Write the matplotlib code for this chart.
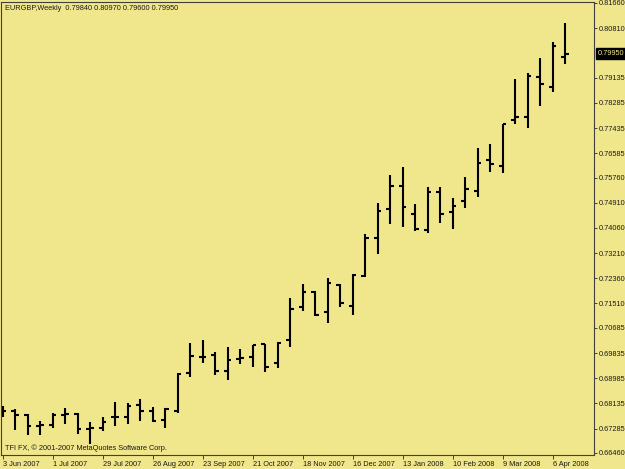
import matplotlib.pyplot as plt
import numpy as np

# weekly EURGBP bars, first bar = week of 3 Jun 2007
opens = [0.6788, 0.6788, 0.6774, 0.6737, 0.6740, 0.6774, 0.6778, 0.6727, 0.6730, 0.6768,
         0.6768, 0.6808, 0.6788, 0.6757, 0.6788, 0.6916, 0.6970, 0.6977, 0.6923, 0.6963,
         0.6970, 0.7014, 0.6950, 0.7028, 0.7139, 0.7190, 0.7122, 0.7213, 0.7142, 0.7244,
         0.7372, 0.7470, 0.7548, 0.7453, 0.7399, 0.7528, 0.7460, 0.7497, 0.7531, 0.7636,
         0.7615, 0.7771, 0.7781, 0.7916, 0.7882, 0.79840]
highs = [0.6805, 0.6795, 0.6778, 0.6754, 0.6781, 0.6798, 0.6781, 0.6751, 0.6768, 0.6818,
         0.6815, 0.6828, 0.6801, 0.6798, 0.6916, 0.7018, 0.7028, 0.6987, 0.7004, 0.6997,
         0.7011, 0.7014, 0.7021, 0.7170, 0.7217, 0.7193, 0.7237, 0.7217, 0.7251, 0.7386,
         0.7490, 0.7585, 0.7612, 0.7487, 0.7544, 0.7544, 0.7507, 0.7578, 0.7676, 0.7690,
         0.7758, 0.7909, 0.7930, 0.7980, 0.8034, 0.80970]
lows = [0.6768, 0.6724, 0.6707, 0.6707, 0.6730, 0.6744, 0.6710, 0.6676, 0.6720, 0.6737,
        0.6744, 0.6754, 0.6751, 0.6730, 0.6781, 0.6903, 0.6950, 0.6909, 0.6892, 0.6947,
        0.6936, 0.6919, 0.6933, 0.7004, 0.7126, 0.7109, 0.7085, 0.7139, 0.7112, 0.7240,
        0.7318, 0.7419, 0.7409, 0.7396, 0.7389, 0.7423, 0.7403, 0.7474, 0.7511, 0.7595,
        0.7592, 0.7757, 0.7744, 0.7818, 0.7865, 0.79600]
closes = [0.6788, 0.6774, 0.6737, 0.6740, 0.6774, 0.6778, 0.6727, 0.6730, 0.6751, 0.6768,
          0.6805, 0.6788, 0.6754, 0.6795, 0.6913, 0.6974, 0.6970, 0.6923, 0.6960, 0.6967,
          0.7011, 0.6936, 0.7018, 0.7132, 0.7190, 0.7112, 0.7220, 0.7153, 0.7247, 0.7372,
          0.7463, 0.7548, 0.7477, 0.7403, 0.7528, 0.7453, 0.7480, 0.7538, 0.7626, 0.7622,
          0.7758, 0.7781, 0.7919, 0.7892, 0.8021, 0.79950]

date_labels = ["3 Jun 2007", "1 Jul 2007", "29 Jul 2007", "26 Aug 2007", "23 Sep 2007",
               "21 Oct 2007", "18 Nov 2007", "16 Dec 2007", "13 Jan 2008", "10 Feb 2008",
               "9 Mar 2008", "6 Apr 2008"]
date_idx = [0, 4, 8, 12, 16, 20, 24, 28, 32, 36, 40, 44]

price_ticks = [0.81660, 0.80810, 0.79135, 0.78285, 0.77435, 0.76585, 0.75760, 0.74910,
               0.74060, 0.73210, 0.72360, 0.71510, 0.70685, 0.69835, 0.68985, 0.68135,
               0.67285, 0.66460]

bg = '#F0E68C'
fg = '#1a1a1a'
plt.rcParams['font.family'] = ['Liberation Sans', 'DejaVu Sans']
fs = 5.3

fig = plt.figure(figsize=(6.25, 4.69), dpi=100, facecolor=bg)
ax = fig.add_axes([1 / 625, 1 - 455 / 469, 593 / 625, 453 / 469])
ax.set_facecolor(bg)

x = np.arange(len(opens))
tk = 0.3
ax.vlines(x, lows, highs, color='black', lw=1.5)
ax.hlines(opens, x - tk, x, color='black', lw=1.5)
ax.hlines(closes, x, x + tk, color='black', lw=1.5)

ax.set_xlim(-0.136, 47.3)
ax.set_ylim(0.66391, 0.81693)

ax.set_xticks(date_idx)
ax.set_xticklabels(date_labels, fontsize=fs, color=fg, ha='left')
ax.tick_params(axis='x', direction='out', length=3, width=0.7, color='#404040', pad=1)
for lab in ax.get_xticklabels():
    lab.set_x(lab.get_position()[0])

ax.yaxis.tick_right()
ax.set_yticks(price_ticks)
ax.set_yticklabels([f'{v:.5f}' for v in price_ticks], fontsize=fs, color=fg)
ax.tick_params(axis='y', direction='out', length=2.2, width=0.7, color='#404040', pad=1.5)

for s in ax.spines.values():
    s.set_color('#404040')
    s.set_linewidth(0.8)

# current price marker on the scale
ax.annotate(f'{closes[-1]:.5f}', xy=(1.0, closes[-1]), xycoords=('axes fraction', 'data'),
            xytext=(4, 0), textcoords='offset pixels', ha='left', va='center',
            fontsize=fs, color=bg,
            bbox=dict(boxstyle='square,pad=0.25', fc='black', ec='black'))

title = f'EURGBP,Weekly  {opens[-1]:.5f} {highs[-1]:.5f} {lows[-1]:.5f} {closes[-1]:.5f}'
ax.annotate(title, xy=(0, 1), xycoords='axes fraction', xytext=(4, -3),
            textcoords='offset pixels', ha='left', va='top', fontsize=fs, color=fg)
ax.annotate('TFI FX, \u00a9 2001-2007 MetaQuotes Software Corp.', xy=(0, 0),
            xycoords='axes fraction', xytext=(4, 3), textcoords='offset pixels',
            ha='left', va='bottom', fontsize=fs, color=fg)

fig.savefig('out.png', dpi=100, facecolor=bg)
